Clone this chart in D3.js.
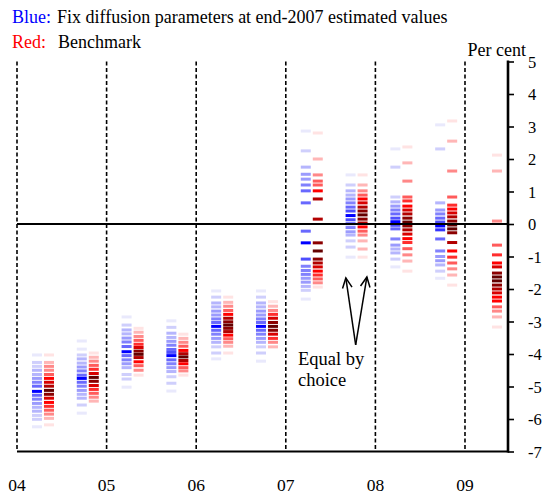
<!DOCTYPE html>
<html><head><meta charset="utf-8">
<script src="https://cdn.jsdelivr.net/npm/d3@7/dist/d3.min.js"></script>
</head><body style="margin:0;background:#fff">
<svg id="chart" width="544" height="494"></svg>
<script>
// ---------- DATA ----------
const dates = [2004.29, 2004.79, 2005.29, 2005.79, 2006.29, 2006.79, 2007.29, 2007.79, 2008.29, 2008.79, 2009.29];
const yearTicks = [2004, 2005, 2006, 2007, 2008, 2009];
const yearLabels = ["04", "05", "06", "07", "08", "09"];
const yTicks = [-7, -6, -5, -4, -3, -2, -1, 0, 1, 2, 3, 4, 5];

// each stripe: [value (per cent), density level 1..10]
const blueStripes = [
  [[-4.03,1],[-4.26,2],[-4.38,2],[-4.50,3],[-4.63,3],[-4.75,4],[-4.87,5],[-4.99,6],[-5.15,10],[-5.27,6],[-5.39,5],[-5.52,4],[-5.64,3],[-5.76,3],[-5.89,2],[-6.01,2],[-6.24,1]],
  [[-3.60,1],[-3.85,1],[-4.03,2],[-4.15,3],[-4.28,3],[-4.40,4],[-4.52,5],[-4.65,6],[-4.75,10],[-4.87,6],[-4.99,5],[-5.12,4],[-5.24,3],[-5.36,3],[-5.57,2],[-5.82,1]],
  [[-2.86,1],[-3.11,2],[-3.26,3],[-3.38,3],[-3.51,4],[-3.63,5],[-3.77,6],[-3.93,10],[-4.05,6],[-4.18,5],[-4.30,4],[-4.42,3],[-4.63,2],[-4.77,2],[-5.02,1]],
  [[-2.98,1],[-3.18,2],[-3.36,3],[-3.49,3],[-3.61,4],[-3.73,5],[-3.86,6],[-3.95,7],[-4.05,10],[-4.18,6],[-4.30,5],[-4.42,4],[-4.54,3],[-4.70,2],[-4.90,2],[-5.14,1]],
  [[-2.06,1],[-2.25,2],[-2.43,3],[-2.55,3],[-2.68,4],[-2.80,4],[-2.92,5],[-3.03,6],[-3.15,10],[-3.27,6],[-3.39,5],[-3.52,4],[-3.64,3],[-3.78,2],[-3.97,2],[-4.15,1]],
  [[-2.06,1],[-2.25,2],[-2.43,3],[-2.55,3],[-2.68,4],[-2.80,4],[-2.92,5],[-3.03,6],[-3.15,10],[-3.27,6],[-3.39,5],[-3.52,4],[-3.64,3],[-3.78,2],[-3.97,2],[-4.22,1]],
  [[2.86,1],[2.25,2],[1.75,3],[1.53,4],[1.38,4],[1.20,5],[1.02,6],[0.65,6],[-0.22,6],[-0.58,10],[-1.08,7],[-1.30,5],[-1.43,5],[-1.55,5],[-1.67,4],[-1.79,4],[-1.92,3],[-2.04,2],[-2.31,1]],
  [[1.51,1],[1.20,2],[1.02,3],[0.89,3],[0.77,4],[0.65,5],[0.52,6],[0.40,7],[0.26,10],[0.13,7],[0.01,6],[-0.11,5],[-0.24,4],[-0.34,3],[-0.52,2],[-0.71,2],[-1.02,1]],
  [[2.31,1],[1.75,2],[0.83,2],[0.68,3],[0.55,4],[0.43,5],[0.31,6],[0.18,7],[0.07,10],[-0.04,7],[-0.15,6],[-0.46,5],[-0.65,4],[-0.77,3],[-0.89,3],[-1.08,2],[-1.32,1]],
  [[3.05,1],[2.31,2],[0.65,3],[0.43,4],[0.31,5],[0.18,6],[0.06,7],[-0.06,10],[-0.18,8],[-0.46,6],[-0.83,5],[-1.00,4],[-1.13,4],[-1.26,3],[-1.45,2],[-1.67,1]],
  []
];
const redStripes = [
  [[-4.03,1],[-4.26,2],[-4.38,3],[-4.50,3],[-4.63,4],[-4.75,6],[-4.87,7],[-4.99,8],[-5.12,10],[-5.24,9],[-5.36,7],[-5.49,6],[-5.61,5],[-5.73,4],[-5.85,3],[-5.98,2],[-6.18,1]],
  [[-3.97,1],[-4.10,2],[-4.22,3],[-4.35,4],[-4.47,5],[-4.60,7],[-4.72,10],[-4.84,9],[-4.97,7],[-5.09,5],[-5.21,4],[-5.33,3],[-5.45,2]],
  [[-3.21,1],[-3.33,2],[-3.46,3],[-3.58,4],[-3.70,5],[-3.80,7],[-3.91,9],[-4.01,10],[-4.11,8],[-4.24,6],[-4.36,4],[-4.50,3],[-4.65,1]],
  [[-3.39,1],[-3.52,2],[-3.64,3],[-3.76,4],[-3.89,6],[-3.99,8],[-4.09,10],[-4.20,8],[-4.30,6],[-4.42,4],[-4.52,3],[-4.65,1]],
  [[-2.25,1],[-2.41,2],[-2.53,3],[-2.66,4],[-2.78,6],[-2.90,8],[-3.01,9],[-3.11,10],[-3.21,9],[-3.31,8],[-3.42,6],[-3.53,4],[-3.64,3],[-3.76,2],[-3.97,1]],
  [[-2.39,1],[-2.53,2],[-2.66,3],[-2.78,5],[-2.90,7],[-3.03,9],[-3.15,10],[-3.27,9],[-3.39,7],[-3.52,5],[-3.64,3],[-3.78,2]],
  [[2.80,1],[2.00,2],[1.51,3],[1.32,4],[1.20,4],[1.02,6],[0.77,8],[0.15,8],[-0.58,9],[-0.83,10],[-1.08,9],[-1.20,8],[-1.32,7],[-1.45,6],[-1.57,5],[-1.69,4],[-1.81,3],[-1.94,1]],
  [[1.51,1],[1.20,2],[1.02,3],[0.89,4],[0.77,6],[0.65,7],[0.52,8],[0.40,9],[0.28,10],[0.15,9],[0.03,8],[-0.09,6],[-0.22,4],[-0.34,3],[-0.52,2],[-0.77,2],[-1.02,1]],
  [[2.37,1],[1.88,2],[1.32,3],[0.83,4],[0.71,5],[0.55,6],[0.43,7],[0.31,8],[0.18,9],[0.06,10],[-0.06,9],[-0.18,8],[-0.31,7],[-0.45,6],[-0.57,5],[-0.76,4],[-0.95,3],[-1.14,2],[-1.45,1]],
  [[3.17,1],[2.55,2],[1.63,3],[0.83,4],[0.58,5],[0.46,6],[0.34,7],[0.22,8],[0.09,9],[-0.03,10],[-0.15,10],[-0.27,9],[-0.57,8],[-0.83,6],[-1.02,5],[-1.20,4],[-1.38,3],[-1.57,2],[-1.88,1]],
  [[2.12,1],[1.63,2],[0.09,3],[-0.65,4],[-0.95,5],[-1.20,6],[-1.32,7],[-1.51,9],[-1.63,10],[-1.75,10],[-1.88,9],[-2.00,8],[-2.12,7],[-2.25,6],[-2.37,6],[-2.55,4],[-2.68,3],[-2.86,2],[-3.17,1]]
];

// annotation anchored in data coordinates
const arrowBase = [2007.78, -3.72];
const arrowTips = [[2007.67, -1.66], [2007.905, -1.63]];
const noteLines = ["Equal by", "choice"];
const noteAt = [2007.136, -4.34];

// ---------- CHART ----------
const FONT = "Liberation Serif";
const svg = d3.select("#chart");
const x = d3.scaleLinear().domain([2004, 2009.48]).range([17, 508]);
const y = d3.scaleLinear().domain([-7, 5]).range([451.5, 61.5]);

const blueColor = l => d3.interpolateRgb("#e9e9fc", "#0000ff")((l - 1) / 9);
const redColor = l => l <= 6
  ? d3.interpolateRgb("#ffe3e3", "#ff0000")((l - 1) / 5)
  : d3.interpolateRgb("#ff0000", "#640000")((l - 6) / 4);

const stripeW = 10, stripeH = 3, offset = 6;

function label(parent, px, py, size, anchor) {
  return parent.append("text")
    .attr("x", px).attr("y", py)
    .attr("text-anchor", anchor || "start")
    .style("font-family", FONT)
    .style("font-size", size + "px");
}

// year dashed lines
svg.append("g").selectAll("line").data(yearTicks).join("line")
  .attr("x1", d => x(d)).attr("x2", d => x(d))
  .attr("y1", y(5)).attr("y2", y(-7))
  .attr("stroke", "#000").attr("stroke-width", 1.6)
  .attr("stroke-dasharray", "4,2.5");

// stripes
function drawSeries(data, dx, color) {
  const g = svg.append("g");
  data.forEach((col, i) => {
    g.selectAll(null).data(col).join("rect")
      .attr("x", x(dates[i]) + dx - stripeW / 2)
      .attr("y", d => y(d[0]) - stripeH / 2)
      .attr("width", stripeW).attr("height", stripeH)
      .attr("fill", d => color(d[1]));
  });
}
drawSeries(blueStripes, -offset, blueColor);
drawSeries(redStripes, offset, redColor);

// zero line
svg.append("line")
  .attr("x1", x(2004)).attr("x2", x(2009.48))
  .attr("y1", y(0)).attr("y2", y(0))
  .attr("stroke", "#000").attr("stroke-width", 2);

// bottom axis line
svg.append("line")
  .attr("x1", x(2004)).attr("x2", x(2009.48) + 1)
  .attr("y1", y(-7)).attr("y2", y(-7))
  .attr("stroke", "#000").attr("stroke-width", 2.2);

// right axis
const yAxis = d3.axisRight(y).tickValues(yTicks).tickSize(6).tickPadding(14)
  .tickFormat(d => String(d));
const ag = svg.append("g").attr("transform", `translate(${x(2009.48)},0)`).call(yAxis);
ag.select(".domain").remove();
ag.selectAll(".tick line").attr("stroke-width", 1.6);
ag.selectAll(".tick text")
  .attr("dy", "0.34em")
  .style("font-family", FONT).style("font-size", "16.5px").style("fill", "#000");
ag.append("line").attr("x1", 0).attr("x2", 0).attr("y1", y(5) - 1).attr("y2", y(-7) + 1)
  .attr("stroke", "#000").attr("stroke-width", 2.6);

// x labels
const xl = svg.append("g");
yearTicks.forEach((d, i) => label(xl, x(d), 491, 17.5, "middle").text(yearLabels[i]));

// Per cent
label(svg, 526, 56, 18, "end").text("Per cent");

// title lines
const t1 = label(svg, 12, 23, 18);
t1.append("tspan").style("fill", "#0000ff").text("Blue:");
t1.append("tspan").attr("x", 57).text("Fix diffusion parameters at end-2007 estimated values");
const t2 = label(svg, 12, 48, 18);
t2.append("tspan").style("fill", "#ff0000").text("Red:");
t2.append("tspan").attr("x", 58).text("Benchmark");

// annotation arrows
const ann = svg.append("g").attr("stroke", "#000").attr("stroke-width", 1.5).attr("fill", "none");
arrowTips.forEach(t => {
  const bx = x(arrowBase[0]), by = y(arrowBase[1]);
  const tx = x(t[0]), ty = y(t[1]);
  ann.append("line").attr("x1", bx).attr("y1", by).attr("x2", tx).attr("y2", ty);
  const ang = Math.atan2(by - ty, bx - tx);
  const L = 11, spread = 0.45;
  ann.append("path").attr("d",
    `M${tx + L * Math.cos(ang - spread)},${ty + L * Math.sin(ang - spread)}L${tx},${ty}L${tx + L * Math.cos(ang + spread)},${ty + L * Math.sin(ang + spread)}`);
});
noteLines.forEach((d, i) => label(svg, x(noteAt[0]), y(noteAt[1]) + i * 21, 18.5).text(d));
</script>
</body></html>
